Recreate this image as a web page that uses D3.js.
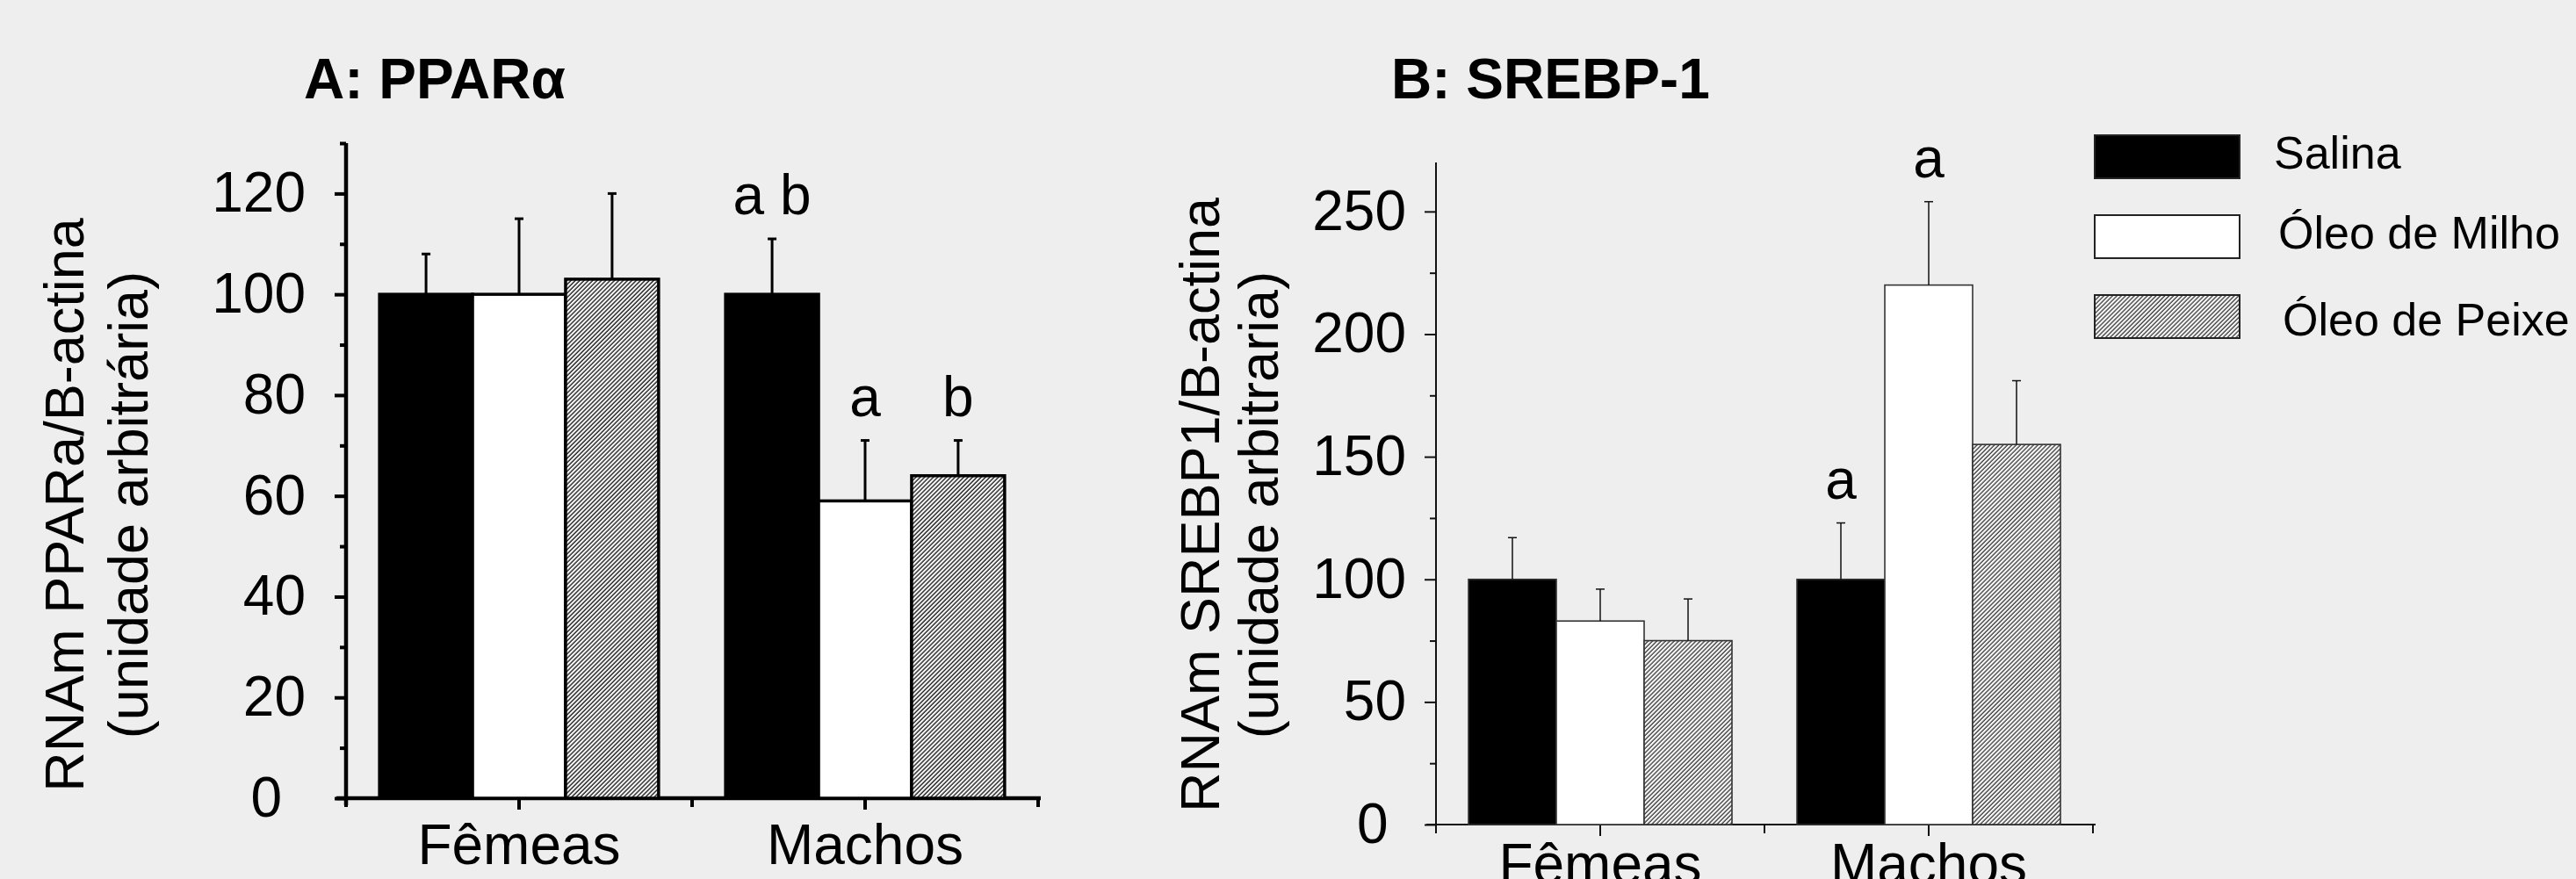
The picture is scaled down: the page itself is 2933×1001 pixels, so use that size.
<!DOCTYPE html>
<html>
<head>
<meta charset="utf-8">
<script src="https://cdn.jsdelivr.net/npm/d3@7"></script>
<style>
  body { margin: 0; background: #eeeeee; }
  svg { display: block; }
</style>
</head>
<body>
<div id="figure"></div>
<script>
// Values
var categories = ["Fêmeas", "Machos"];
var treatments = ["Salina", "Óleo de Milho", "Óleo de Peixe"];

// A: PPARα
var ppar_femeas = [100, 100, 103];
var ppar_machos = [100, 59, 64];
var ppar_err_femeas = [8, 15, 17];
var ppar_err_machos = [11, 12, 7];
var ppar_letters_femeas = ["", "", ""];
var ppar_letters_machos = ["a b", "a", "b"];
var ppar_ticks = [0, 20, 40, 60, 80, 100, 120];
var ppar_minor = [10, 30, 50, 70, 90, 110, 130];

// B: SREBP-1
var srebp_femeas = [100, 83, 75];
var srebp_machos = [100, 220, 155];
var srebp_err_femeas = [17, 13, 17];
var srebp_err_machos = [23, 34, 26];
var srebp_letters_femeas = ["", "", ""];
var srebp_letters_machos = ["a", "a", ""];
var srebp_ticks = [0, 50, 100, 150, 200, 250];
var srebp_minor = [25, 75, 125, 175, 225];

var FONT = "'Liberation Sans', Arial, sans-serif";

function makeRows(values, errs, letters) {
  return categories.map(function (c, i) {
    return treatments.map(function (t, j) {
      return { cat: c, treat: t, value: values[i][j], err: errs[i][j], letter: letters[i][j] };
    });
  });
}

var svg = d3.select("#figure").append("svg")
  .attr("width", 2933)
  .attr("height", 1001)
  .style("background", "#eeeeee")
  .attr("font-family", FONT);

var defs = svg.append("defs");

function hatch(id, width) {
  var p = defs.append("pattern")
    .attr("id", id)
    .attr("patternUnits", "userSpaceOnUse")
    .attr("width", 3.5)
    .attr("height", 3.5)
    .attr("patternTransform", "rotate(45)");
  p.append("rect").attr("width", 3.5).attr("height", 3.5).attr("fill", "#fff");
  p.append("line")
    .attr("x1", 1).attr("y1", 0).attr("x2", 1).attr("y2", 3.5)
    .attr("stroke", "#000").attr("stroke-width", width);
}
hatch("hatchA", 1.25);
hatch("hatchB", 1.05);

function barChart(selection) {
  var rows = [];
  var ticks = [], minor = [];
  var maxY = 100;
  var box = { left: 0, right: 100, top: 0, bottom: 100 };
  var style = { axis: 2, tick: 2, bar: 1.5, err: 1.5, ink: "#000", barInk: "#000", hatch: "hatchA" };
  var outerPad = 0.36;
  var title = { text: "", x: 0, y: 112 };
  var y_label = { lines: [], x: [], center: 575 };
  var labelGap = 30, zeroShift = "-0.4em", xPad = 17;

  var g, x0, x1, y;

  function scale() {
    y = d3.scaleLinear().domain([0, maxY]).range([box.bottom, box.top]);
    x0 = d3.scaleBand().domain(categories).range([box.left, box.right]);
    x1 = d3.scaleBand().domain(treatments).range([0, x0.bandwidth()]).paddingOuter(outerPad);
  }

  function fillFor(t) {
    var i = treatments.indexOf(t);
    return i === 0 ? "#000" : (i === 1 ? "#fff" : "url(#" + style.hatch + ")");
  }

  function renderAxes() {
    // x axis line, slightly past the y axis on the left
    g.append("line")
      .attr("x1", box.left - 11).attr("x2", box.right + 3)
      .attr("y1", y(0)).attr("y2", y(0))
      .attr("stroke", style.ink).attr("stroke-width", style.axis);

    // y axis line, runs a bit under the x axis
    g.append("line")
      .attr("x1", box.left).attr("x2", box.left)
      .attr("y1", y(maxY)).attr("y2", y(0) + 8)
      .attr("stroke", style.ink).attr("stroke-width", style.axis);

    var minorAxis = g.append("g")
      .attr("transform", "translate(" + box.left + ",0)")
      .call(d3.axisLeft(y).tickValues(minor).tickSize(7).tickFormat(""));
    minorAxis.select(".domain").remove();
    minorAxis.selectAll(".tick line").attr("stroke", style.ink).attr("stroke-width", style.tick);

    var majorAxis = g.append("g")
      .attr("transform", "translate(" + box.left + ",0)")
      .call(d3.axisLeft(y).tickValues(ticks).tickSize(13).tickPadding(labelGap));
    majorAxis.select(".domain").remove();
    majorAxis.selectAll(".tick line").attr("stroke", style.ink).attr("stroke-width", style.tick);
    majorAxis.selectAll(".tick text")
      .attr("font-family", FONT)
      .attr("font-size", 64)
      .attr("fill", "#000")
      .attr("dx", function (d) { return d === 0 ? zeroShift : 0; });

    var xAxis = g.append("g")
      .attr("transform", "translate(0," + y(0) + ")")
      .call(d3.axisBottom(x0).tickSize(13).tickPadding(xPad));
    xAxis.select(".domain").remove();
    xAxis.selectAll(".tick line").attr("stroke", style.ink).attr("stroke-width", style.tick);
    xAxis.selectAll(".tick text")
      .attr("font-family", FONT)
      .attr("font-size", 64)
      .attr("fill", "#000");

    // small ticks at the band edges
    var edges = categories.map(function (c) { return x0(c); }).concat([box.right]);
    g.selectAll("line.edge")
      .data(edges)
      .enter().append("line")
      .attr("class", "edge")
      .attr("x1", function (d) { return d; })
      .attr("x2", function (d) { return d; })
      .attr("y1", y(0))
      .attr("y2", y(0) + 10)
      .attr("stroke", style.ink)
      .attr("stroke-width", style.tick);
  }

  function renderBars() {
    var groups = g.selectAll("g.group")
      .data(rows)
      .enter().append("g")
      .attr("class", "group")
      .attr("transform", function (d) { return "translate(" + x0(d[0].cat) + ",0)"; });

    groups.selectAll("rect")
      .data(function (d) { return d; })
      .enter().append("rect")
      .attr("x", function (d) { return x1(d.treat); })
      .attr("width", x1.bandwidth())
      .attr("y", function (d) { return y(d.value); })
      .attr("height", function (d) { return y(0) - y(d.value); })
      .attr("fill", function (d) { return fillFor(d.treat); })
      .attr("stroke", style.barInk)
      .attr("stroke-width", style.bar);

    // error bars (upper half only)
    groups.selectAll("line.err")
      .data(function (d) { return d; })
      .enter().append("line")
      .attr("class", "err")
      .attr("x1", function (d) { return x1(d.treat) + x1.bandwidth() / 2; })
      .attr("x2", function (d) { return x1(d.treat) + x1.bandwidth() / 2; })
      .attr("y1", function (d) { return y(d.value); })
      .attr("y2", function (d) { return y(d.value + d.err); })
      .attr("stroke", style.ink)
      .attr("stroke-width", style.err);

    groups.selectAll("line.cap")
      .data(function (d) { return d; })
      .enter().append("line")
      .attr("class", "cap")
      .attr("x1", function (d) { return x1(d.treat) + x1.bandwidth() / 2 - 5; })
      .attr("x2", function (d) { return x1(d.treat) + x1.bandwidth() / 2 + 5; })
      .attr("y1", function (d) { return y(d.value + d.err); })
      .attr("y2", function (d) { return y(d.value + d.err); })
      .attr("stroke", style.ink)
      .attr("stroke-width", style.err);

    groups.selectAll("text.letter")
      .data(function (d) { return d.filter(function (e) { return e.letter; }); })
      .enter().append("text")
      .attr("class", "letter")
      .attr("x", function (d) { return x1(d.treat) + x1.bandwidth() / 2; })
      .attr("y", function (d) { return y(d.value + d.err) - 28; })
      .attr("text-anchor", "middle")
      .attr("font-size", 64)
      .text(function (d) { return d.letter; });
  }

  function renderLabels() {
    g.append("text")
      .attr("class", "title")
      .attr("x", title.x)
      .attr("y", title.y)
      .attr("font-size", 64)
      .attr("font-weight", "bold")
      .text(title.text);

    y_label.lines.forEach(function (line, i) {
      g.append("text")
        .attr("class", "y-label")
        .attr("text-anchor", "middle")
        .attr("transform", "translate(" + y_label.x[i] + "," + y_label.center + ") rotate(-90)")
        .attr("font-size", 63)
        .text(line);
    });
  }

  var chart = {};

  chart.rows = function (r) { rows = r; return chart; };
  chart.ticks = function (t, m) { ticks = t; minor = m; return chart; };
  chart.maxY = function (v) { maxY = v; return chart; };
  chart.box = function (b) { box = b; return chart; };
  chart.style = function (s) { style = Object.assign(style, s); return chart; };
  chart.outerPad = function (p) { outerPad = p; return chart; };
  chart.labelGap = function (v, z, xp) { labelGap = v; zeroShift = z; xPad = xp; return chart; };
  chart.title = function (text, x) { title.text = text; title.x = x; return chart; };
  chart.yLabel = function (lines, xs, center) {
    y_label.lines = lines; y_label.x = xs; y_label.center = center;
    return chart;
  };

  chart.render = function () {
    scale();
    g = selection.append("g");
    renderAxes();
    renderBars();
    renderLabels();
    return chart;
  };

  return chart;
}

barChart(svg)
  .rows(makeRows([ppar_femeas, ppar_machos], [ppar_err_femeas, ppar_err_machos],
                 [ppar_letters_femeas, ppar_letters_machos]))
  .ticks(ppar_ticks, ppar_minor)
  .maxY(130)
  .box({ left: 394, right: 1182, top: 163, bottom: 909 })
  .outerPad(0.36)
  .style({ axis: 4.5, tick: 4, bar: 3.5, err: 3, ink: "#000", barInk: "#000", hatch: "hatchA" })
  .labelGap(33, "-0.42em", 17)
  .title("A: PPARα", 346)
  .yLabel(["RNAm PPARa/B-actina", "(unidade arbitrária)"], [95, 168], 575)
  .render();

barChart(svg)
  .rows(makeRows([srebp_femeas, srebp_machos], [srebp_err_femeas, srebp_err_machos],
                 [srebp_letters_femeas, srebp_letters_machos]))
  .ticks(srebp_ticks, srebp_minor)
  .maxY(270)
  .box({ left: 1635, right: 2383, top: 185, bottom: 939 })
  .outerPad(0.37)
  .style({ axis: 2, tick: 2, bar: 1.6, err: 1.5, ink: "#111", barInk: "#333", hatch: "hatchB" })
  .labelGap(21, "-0.32em", 9)
  .title("B: SREBP-1", 1584)
  .yLabel(["RNAm SREBP1/B-actina", "(unidade arbitraria)"], [1388, 1455], 575)
  .render();

// legend
var legend = svg.append("g")
  .attr("class", "legend")
  .selectAll("g")
  .data(treatments)
  .enter().append("g")
  .attr("transform", function (d, i) { return "translate(2385," + (154 + i * 91) + ")"; });

legend.append("rect")
  .attr("width", 165)
  .attr("height", 49)
  .attr("fill", function (d, i) { return ["#000", "#fff", "url(#hatchB)"][i]; })
  .attr("stroke", "#222")
  .attr("stroke-width", 2);

legend.append("text")
  .attr("x", function (d, i) { return 204 + i * 5; })
  .attr("y", function (d, i) { return 38 + (i === 2 ? 8 : 0); })
  .attr("font-size", 52)
  .text(function (d) { return d; });
</script>
</body>
</html>
